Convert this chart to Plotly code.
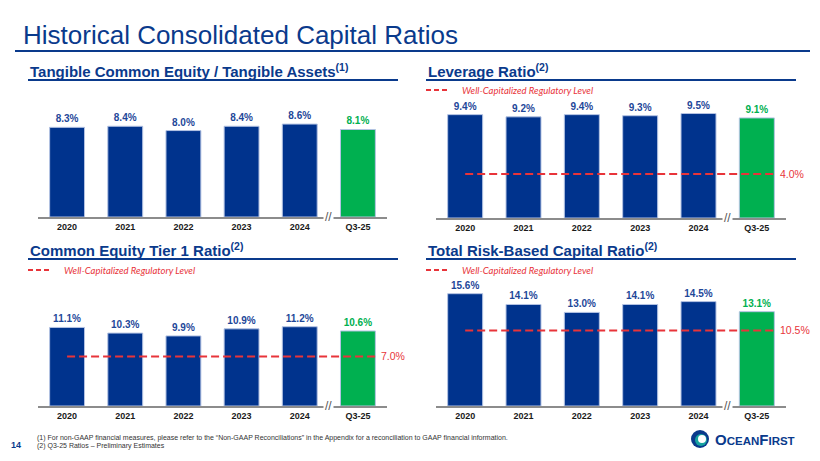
import plotly.graph_objects as go

categories = ["2020", "2021", "2022", "2023", "2024", "Q3-25"]
tce_ta = [8.3, 8.4, 8.0, 8.4, 8.6, 8.1]
leverage = [9.4, 9.2, 9.4, 9.3, 9.5, 9.1]
cet1 = [11.1, 10.3, 9.9, 10.9, 11.2, 10.6]
total_rbc = [15.6, 14.1, 13.0, 14.1, 14.5, 13.1]
thresholds = [None, 4.0, 7.0, 10.5]
titles = ["Tangible Common Equity / Tangible Assets<sup>(1)</sup>",
          "Leverage Ratio<sup>(2)</sup>",
          "Common Equity Tier 1 Ratio<sup>(2)</sup>",
          "Total Risk-Based Capital Ratio<sup>(2)</sup>"]
series = [tce_ta, leverage, cet1, total_rbc]

NAVY = "#00338D"
GREEN = "#00B050"
LBLUE = "#1E4799"
RED = "#E8343A"
OFF = 8  # page body margin offset
W, H = 820 - OFF, 461 - OFF

def px(xp):
    return (xp - OFF) / W

def py(yp):
    return 1 - (yp - OFF) / H

fig = go.Figure()

panels = [
    dict(xd=(38, 387), yd=(217, 100), yr=10.83, head_y=70, line_y=80, hx0=28, hx1=398, leg_y=None),
    dict(xd=(436, 786), yd=(218, 100), yr=10.73, head_y=70, line_y=80, hx0=426, hx1=796, leg_y=90),
    dict(xd=(38, 387), yd=(406, 280), yr=17.8, head_y=249, line_y=259, hx0=28, hx1=398, leg_y=270),
    dict(xd=(436, 786), yd=(406, 280), yr=17.5, head_y=249, line_y=259, hx0=426, hx1=796, leg_y=270),
]

shapes = []
annotations = []
xs = list(range(len(categories)))

for i, (p, vals) in enumerate(zip(panels, series)):
    n = "" if i == 0 else str(i + 1)
    xa = "x" + n
    ya = "y" + n
    colors = [NAVY] * (len(vals) - 1) + [GREEN]
    tcolors = [LBLUE] * (len(vals) - 1) + [GREEN]
    fig.add_trace(go.Bar(
        x=xs, y=vals, xaxis=xa, yaxis=ya, width=0.6,
        marker=dict(color=colors, line=dict(color="#B4C3E3", width=1)),
        text=[f"<b>{v:.1f}%</b>" for v in vals], textposition="outside",
        textfont=dict(family="Arial, Liberation Sans", size=10, color=tcolors),
        constraintext="none", cliponaxis=False, showlegend=False, hoverinfo="skip"))
    thr = thresholds[i]
    if thr is not None:
        fig.add_trace(go.Scatter(
            x=[0, 5.3], y=[thr, thr], xaxis=xa, yaxis=ya, mode="lines",
            line=dict(color=RED, width=2, dash="8px,4px"), showlegend=False,
            hoverinfo="skip", cliponaxis=False))
        annotations.append(dict(x=5.36, y=thr, xref=xa, yref=ya, text=f"{thr:.1f}%",
                                showarrow=False, xanchor="left", yanchor="middle",
                                font=dict(family="Arial, Liberation Sans", size=10.5, color=RED)))
    # axis break marks
    annotations.append(dict(x=4.5, y=0, xref=xa, yref=ya, text="//", showarrow=False,
                            xanchor="center", yanchor="middle", bgcolor="white",
                            font=dict(family="Arial, Liberation Sans", size=12, color="#555555")))
    fig.layout["xaxis" + n] = dict(
        domain=[px(p["xd"][0]), px(p["xd"][1])], anchor=ya, range=[-0.5, 5.5],
        tickvals=xs, ticktext=[f"<b>{c}</b>" for c in categories],
        tickfont=dict(family="Arial, Liberation Sans", size=9, color="#1a1a1a"),
        showline=True, linecolor="#8C8C8C", linewidth=1.5, showgrid=False,
        zeroline=False, ticks="", fixedrange=True)
    fig.layout["yaxis" + n] = dict(
        domain=[py(p["yd"][0]), py(p["yd"][1])], anchor=xa, range=[0, p["yr"]],
        visible=False, showgrid=False, zeroline=False, fixedrange=True)
    # heading
    annotations.append(dict(x=px(p["hx0"]), y=py(p["head_y"]), xref="paper", yref="paper",
                            text=f"<b>{titles[i]}</b>", showarrow=False, xanchor="left",
                            yanchor="middle",
                            font=dict(family="Arial, Liberation Sans", size=15, color="#0A3A8C")))
    shapes.append(dict(type="line", xref="paper", yref="paper",
                       x0=px(p["hx0"]), x1=px(p["hx1"]), y0=py(p["line_y"]), y1=py(p["line_y"]),
                       line=dict(color="#0A3A8C", width=2)))
    if p["leg_y"] is not None:
        shapes.append(dict(type="line", xref="paper", yref="paper",
                           x0=px(p["hx0"]), x1=px(p["hx0"] + 21), y0=py(p["leg_y"]), y1=py(p["leg_y"]),
                           line=dict(color=RED, width=2, dash="5px,3px")))
        annotations.append(dict(x=px(p["hx0"] + 34), y=py(p["leg_y"]), xref="paper", yref="paper",
                                text="<i>Well-Capitalized Regulatory Level</i>", showarrow=False,
                                xanchor="left", yanchor="middle",
                                font=dict(family="Lato", size=9.5, color=RED)))

# main title
annotations.append(dict(x=px(21), y=py(35), xref="paper", yref="paper",
                        text="Historical Consolidated Capital Ratios", showarrow=False,
                        xanchor="left", yanchor="middle",
                        font=dict(family="Arial, Liberation Sans", size=26, color="#0A3A8C")))
shapes.append(dict(type="line", xref="paper", yref="paper", x0=px(15), x1=px(810),
                   y0=py(51), y1=py(51), line=dict(color="#0A3A8C", width=2.2)))

# footnotes
annotations.append(dict(x=px(35), y=py(438), xref="paper", yref="paper",
                        text="(1) For non-GAAP financial measures, please refer to the \u201cNon-GAAP Reconciliations\u201d in the Appendix for a reconciliation to GAAP financial information.",
                        showarrow=False, xanchor="left", yanchor="middle",
                        font=dict(family="Arial, Liberation Sans", size=7, color="#333333")))
annotations.append(dict(x=px(35), y=py(446), xref="paper", yref="paper",
                        text="(2) Q3-25 Ratios \u2013 Preliminary Estimates",
                        showarrow=False, xanchor="left", yanchor="middle",
                        font=dict(family="Arial, Liberation Sans", size=7, color="#333333")))
annotations.append(dict(x=px(9), y=py(445), xref="paper", yref="paper", text="<b>14</b>",
                        showarrow=False, xanchor="left", yanchor="middle",
                        font=dict(family="Arial, Liberation Sans", size=9, color="#0A3A8C")))

# logo
shapes.append(dict(type="circle", xref="paper", yref="paper", x0=px(691), x1=px(709),
                   y0=py(448), y1=py(430), fillcolor="#0A3A8C", line=dict(width=0)))
shapes.append(dict(type="circle", xref="paper", yref="paper", x0=px(695), x1=px(707),
                   y0=py(446), y1=py(434), fillcolor="#17A3A0", line=dict(width=0)))
shapes.append(dict(type="circle", xref="paper", yref="paper", x0=px(698), x1=px(706),
                   y0=py(443), y1=py(435), fillcolor="white", line=dict(width=0)))
annotations.append(dict(x=px(713), y=py(439), xref="paper", yref="paper",
                        text="<b><span style='font-size:15px'>O</span>CEAN<span style='font-size:15px'>F</span>IRST</b>",
                        showarrow=False, xanchor="left", yanchor="middle",
                        font=dict(family="Arial, Liberation Sans", size=11.5, color="#0A3A8C")))

fig.update_layout(width=W, height=H, margin=dict(l=0, r=0, t=0, b=0),
                  paper_bgcolor="white", plot_bgcolor="white",
                  shapes=shapes, annotations=annotations, bargap=0.4,
                  font=dict(family="Arial, Liberation Sans"))

fig.write_html("out.html")
